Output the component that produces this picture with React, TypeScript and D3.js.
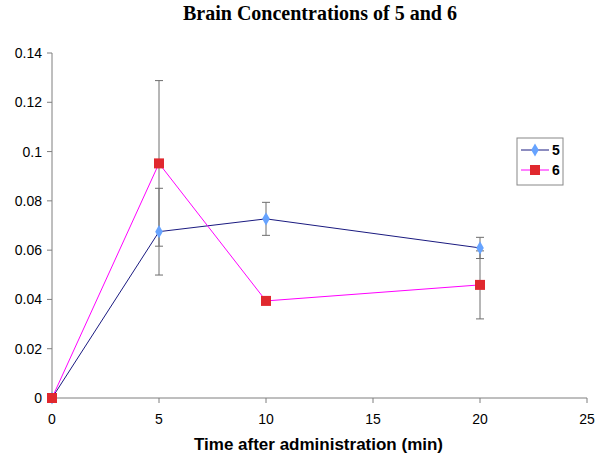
import React from "react";
import * as d3 from "d3";

const times = [0, 5, 10, 20];
const series5 = [0, 0.0675, 0.0727, 0.0609];
const err5 = [0, 0.0176, 0.0067, 0.0043];
const series6 = [0, 0.0952, 0.0394, 0.0459];
const err6 = [0, 0.0336, 0, 0.0138];
const xTicks = [0, 5, 10, 15, 20, 25];
const yTicks = [0, 0.02, 0.04, 0.06, 0.08, 0.1, 0.12, 0.14];

const W = 600, H = 461;
const L = 52, R = 587, T = 53, B = 398;

export default function App() {
  const x = d3.scaleLinear().domain([0, 25]).range([L, R]);
  const y = d3.scaleLinear().domain([0, 0.14]).range([B, T]);
  const line = d3.line<number>().x((_, i) => x(times[i])).y((d) => y(d));
  const diamond = d3.symbol().type(d3.symbolDiamond).size(50)()!;
  const axisColor = "#7f7f7f";

  const errBars = (vals: number[], errs: number[], key: string) =>
    vals.map((v, i) =>
      errs[i] > 0 ? (
        <g key={key + i} stroke="#6e6e6e" strokeWidth={1}>
          <line x1={x(times[i])} x2={x(times[i])} y1={y(v + errs[i])} y2={y(v - errs[i])} />
          <line x1={x(times[i]) - 4} x2={x(times[i]) + 4} y1={y(v + errs[i])} y2={y(v + errs[i])} />
          <line x1={x(times[i]) - 4} x2={x(times[i]) + 4} y1={y(v - errs[i])} y2={y(v - errs[i])} />
        </g>
      ) : null
    );

  return (
    <svg width={W} height={H} style={{ position: "absolute", left: 0, top: 0, background: "#fff" }}>
      <rect width={W} height={H} fill="#fff" />
      <text x={183} y={20} textAnchor="start" fontFamily="Liberation Serif, Times New Roman, serif" fontWeight="bold" fontSize={20} fill="#000">
        Brain Concentrations of 5 and 6
      </text>
      {/* axes */}
      <line x1={L} x2={L} y1={T} y2={B} stroke={axisColor} />
      <line x1={L} x2={R} y1={B} y2={B} stroke={axisColor} />
      {yTicks.map((t) => (
        <g key={"y" + t}>
          <line x1={L - 5} x2={L} y1={y(t)} y2={y(t)} stroke={axisColor} />
          <text x={42} y={y(t) + 5} textAnchor="end" fontFamily="Liberation Sans, Arial, sans-serif" fontSize={14} fill="#000">
            {t === 0 ? "0" : String(+t.toFixed(2))}
          </text>
        </g>
      ))}
      {xTicks.map((t) => (
        <g key={"x" + t}>
          <line x1={x(t)} x2={x(t)} y1={B} y2={B + 5} stroke={axisColor} />
          <text x={x(t)} y={424} textAnchor="middle" fontFamily="Liberation Sans, Arial, sans-serif" fontSize={14} fill="#000">
            {t}
          </text>
        </g>
      ))}
      <text x={318.5} y={450} textAnchor="middle" fontFamily="Liberation Sans, Arial, sans-serif" fontWeight="bold" fontSize={17} fill="#000">
        Time after administration (min)
      </text>
      {errBars(series6, err6, "e6")}
      {errBars(series5, err5, "e5")}
      <path d={line(series5)!} fill="none" stroke="#1a1a80" strokeWidth={1} />
      <path d={line(series6)!} fill="none" stroke="#ff00ff" strokeWidth={1} />
      {series5.map((v, i) => (
        <path key={"m5" + i} d={diamond} transform={`translate(${x(times[i])},${y(v)})`} fill="#66a3ff" />
      ))}
      {series6.map((v, i) => (
        <rect key={"m6" + i} x={x(times[i]) - 5} y={y(v) - 5} width={10} height={10} fill="#e0282e" />
      ))}
      {/* legend */}
      <rect x={517} y={138} width={46} height={47} fill="#fff" stroke="#888" />
      <line x1={521} x2={549} y1={150} y2={150} stroke="#1a1a80" />
      <path d={diamond} transform="translate(535,150)" fill="#66a3ff" />
      <text x={552} y={155} fontFamily="Liberation Sans, Arial, sans-serif" fontWeight="bold" fontSize={14} fill="#000">5</text>
      <line x1={521} x2={549} y1={170} y2={170} stroke="#ff00ff" />
      <rect x={530} y={165} width={10} height={10} fill="#e0282e" />
      <text x={552} y={175} fontFamily="Liberation Sans, Arial, sans-serif" fontWeight="bold" fontSize={14} fill="#000">6</text>
    </svg>
  );
}
